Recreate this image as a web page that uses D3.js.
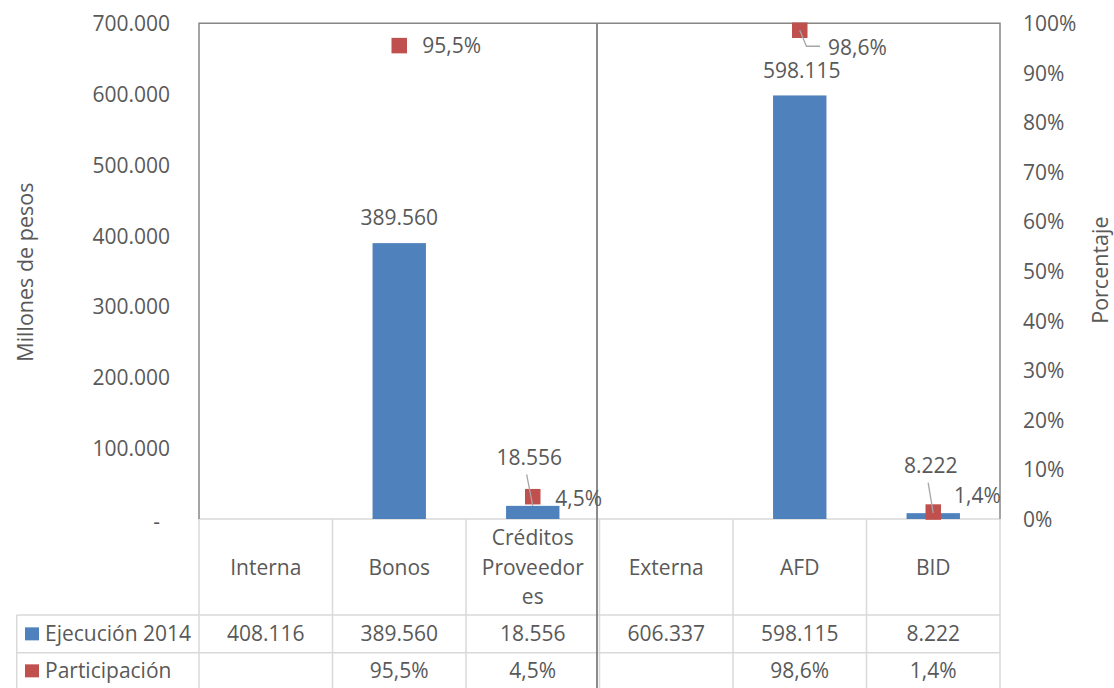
<!DOCTYPE html>
<html><head><meta charset="utf-8">
<script src="https://cdn.jsdelivr.net/npm/d3@7"></script>
<style>
html,body{margin:0;padding:0;background:#fff;}
svg{display:block;font-family:"Open Sans",sans-serif;}
</style></head><body>
<svg id="chart" width="1114" height="688"></svg>
<script>
// ---------- DATA ----------
const categories = ["Interna", "Bonos", "Créditos Proveedores", "Externa", "AFD", "BID"];
const ejecucion2014 = [408116, 389560, 18556, 606337, 598115, 8222];
const participacion = [null, 0.955, 0.045, null, 0.986, 0.014];
const isTotal = [true, false, false, true, false, false];
const leftTicks = [0, 100000, 200000, 300000, 400000, 500000, 600000, 700000];
const rightTicks = [0, 0.1, 0.2, 0.3, 0.4, 0.5, 0.6, 0.7, 0.8, 0.9, 1.0];
const seriesNames = ["Ejecución 2014", "Participación"];
const axisTitles = ["Millones de pesos", "Porcentaje"];

// ---------- STYLE / LAYOUT ----------
const W = 1114, H = 688;
const plot = {left: 199, right: 1000, top: 23.3, bottom: 519};
const tableLeft = 16.7, rowLines = [615, 652.7, 690];
const colBar = "#4F81BD", colPt = "#C0504D", txt = "#595959";
const border = "#868686", grid = "#D9D9D9", leaderCol = "#A6A6A6";
const FS = 21;
// manual label adjustments (Excel-style moved labels)
const labelAdjust = {
  "Créditos Proveedores": {bar: {dx: -3.5, dy: -23.3, leader: true}, pct: {dx: -0.5, dy: 2}},
  "AFD": {bar: {dx: 2, dy: 0}, pct: {dx: 5.3, dy: 17.8, leader: true}},
  "BID": {bar: {dx: -2.5, dy: -22.3, leader: true}, pct: {dx: -2.3, dy: -16.6}}
};

const locale = d3.formatLocale({decimal: ",", thousands: ".", grouping: [3], currency: ["$", ""]});
const fmtNum = locale.format(",.0f");
const fmtPct = locale.format(".1%");
const fmtAxisPct = locale.format(".0%");

const svg = d3.select("#chart");
const x = d3.scaleBand().domain(categories).range([plot.left, plot.right]).padding(0);
const yL = d3.scaleLinear().domain([0, 700000]).range([plot.bottom, plot.top]);
const yR = d3.scaleLinear().domain([0, 1]).range([plot.bottom, plot.top]);
const bw = x.bandwidth();
const barW = bw * 0.4;

const rows = categories.map((c, i) => ({cat: c, v: ejecucion2014[i], p: participacion[i], total: isTotal[i]}));

// ---------- TABLE GRID ----------
const g = svg.append("g");
g.append("line").attr("x1", plot.left).attr("x2", plot.right).attr("y1", plot.bottom).attr("y2", plot.bottom)
  .attr("stroke", grid).attr("stroke-width", 1.5);
const bounds = categories.map(c => x(c)).concat([plot.right]);
g.selectAll("line.vcell").data(bounds).join("line").attr("class", "vcell")
  .attr("x1", d => d).attr("x2", d => d).attr("y1", plot.bottom).attr("y2", rowLines[2])
  .attr("stroke", grid).attr("stroke-width", 1.5);
g.append("line").attr("x1", tableLeft).attr("x2", tableLeft).attr("y1", rowLines[0]).attr("y2", rowLines[2])
  .attr("stroke", grid).attr("stroke-width", 1.5);
g.selectAll("line.hrow").data(rowLines).join("line").attr("class", "hrow")
  .attr("x1", tableLeft).attr("x2", plot.right).attr("y1", d => d).attr("y2", d => d)
  .attr("stroke", grid).attr("stroke-width", 1.5);

// ---------- BARS ----------
svg.append("g").selectAll("rect").data(rows.filter(d => !d.total)).join("rect")
  .attr("x", d => x(d.cat) + (bw - barW) / 2)
  .attr("y", d => yL(d.v))
  .attr("width", barW)
  .attr("height", d => yL(0) - yL(d.v))
  .attr("fill", colBar);

// ---------- PLOT BORDER ----------
svg.append("path")
  .attr("d", `M${plot.left},${plot.bottom}V${plot.top}H${plot.right}V${plot.bottom}`)
  .attr("fill", "none").attr("stroke", border).attr("stroke-width", 1.5);

// separator line
svg.append("line").attr("x1", x("Externa") - 2.5).attr("x2", x("Externa") - 2.5)
  .attr("y1", plot.top).attr("y2", H).attr("stroke", "#7F7F7F").attr("stroke-width", 1.8);

// ---------- AXES ----------
const axL = svg.append("g").attr("transform", `translate(${plot.left},0)`)
  .call(d3.axisLeft(yL).tickValues(leftTicks).tickSize(0).tickPadding(29)
    .tickFormat(d => d === 0 ? "-" : fmtNum(d)));
axL.select(".domain").remove();
axL.selectAll("text").attr("fill", txt).style("font-size", FS + "px").style("font-family", "Open Sans")
  .attr("dx", d => d === 0 ? -10 : 0).attr("dy", d => d === 0 ? "0.45em" : "0.35em");

const axR = svg.append("g").attr("transform", `translate(${plot.right},0)`)
  .call(d3.axisRight(yR).tickValues(rightTicks).tickSize(0).tickPadding(23).tickFormat(fmtAxisPct));
axR.select(".domain").remove();
axR.selectAll("text").attr("fill", txt).style("font-size", FS + "px").style("font-family", "Open Sans")
  .attr("dy", "0.35em");

// axis titles
svg.append("text").attr("transform", `translate(33,${(plot.top + plot.bottom) / 2 + 1}) rotate(-90)`)
  .attr("text-anchor", "middle").attr("fill", txt).style("font-size", "21.5px").text(axisTitles[0]);
svg.append("text").attr("transform", `translate(1108,${(plot.top + plot.bottom) / 2 - 1}) rotate(-90)`)
  .attr("text-anchor", "middle").attr("fill", txt).style("font-size", "21.5px").text(axisTitles[1]);

// ---------- MARKERS ----------
const mS = 15.5;
const pts = rows.filter(d => d.p != null);
svg.append("g").selectAll("rect").data(pts).join("rect")
  .attr("x", d => x(d.cat) + bw / 2 - mS / 2)
  .attr("y", d => yR(d.p) - mS / 2)
  .attr("width", mS).attr("height", mS).attr("fill", colPt);

// ---------- DATA LABELS ----------
const lab = svg.append("g").attr("fill", txt).style("font-size", FS + "px");
rows.filter(d => !d.total).forEach(d => {
  const cx = x(d.cat) + bw / 2;
  const adj = (labelAdjust[d.cat] || {}).bar || {dx: 0, dy: 0};
  const top = yL(d.v);
  const lx = cx + adj.dx, base = top - 17.7 + adj.dy;
  if (adj.leader) {
    svg.append("line").attr("x1", lx - 2.6).attr("y1", base + 9.5).attr("x2", cx).attr("y2", top)
      .attr("stroke", leaderCol).attr("stroke-width", 1.3);
  }
  lab.append("text").attr("x", lx).attr("y", base).attr("text-anchor", "middle").text(fmtNum(d.v));
});
pts.forEach(d => {
  const cx = x(d.cat) + bw / 2, cy = yR(d.p);
  const adj = (labelAdjust[d.cat] || {}).pct || {dx: 0, dy: 0};
  const lx = cx + 23 + adj.dx, ly = cy + adj.dy;
  if (adj.leader) {
    svg.append("polyline")
      .attr("points", `${cx},${cy} ${cx + 6.7},${ly - 1.8} ${lx - 8},${ly - 1.8}`)
      .attr("fill", "none").attr("stroke", leaderCol).attr("stroke-width", 1.3);
  }
  lab.append("text").attr("x", lx).attr("y", ly).attr("dy", "0.35em").text(fmtPct(d.p));
});

// ---------- TABLE TEXT ----------
const tt = svg.append("g").attr("fill", txt).style("font-size", FS + "px");
const headerMid = (plot.bottom + rowLines[0]) / 2 + 0.5;
const lineH = 29.5;
function wrapWords(str, maxW) {
  const meas = tt.append("text").style("visibility", "hidden");
  const w = s => { meas.text(s); return meas.node().getComputedTextLength(); };
  const lines = [];
  let cur = "";
  str.split(" ").forEach(word => {
    const cand = cur ? cur + " " + word : word;
    if (w(cand) <= maxW) { cur = cand; return; }
    if (cur) { lines.push(cur); cur = ""; }
    let piece = "";
    for (const ch of word) {
      if (w(piece + ch) > maxW && piece) { lines.push(piece); piece = ch; } else piece += ch;
    }
    cur = piece;
  });
  if (cur) lines.push(cur);
  meas.remove();
  return lines;
}
categories.forEach(c => {
  const lines = wrapWords(c, 106);
  const cx = x(c) + bw / 2;
  const t = tt.append("text").attr("text-anchor", "middle");
  lines.forEach((ln, i) => {
    t.append("tspan").attr("x", cx)
      .attr("y", headerMid + (i - (lines.length - 1) / 2) * lineH).attr("dy", "0.35em").text(ln);
  });
});
const r1 = (rowLines[0] + rowLines[1]) / 2, r2 = (rowLines[1] + rowLines[2]) / 2 - 0.5;
rows.forEach(d => {
  const cx = x(d.cat) + bw / 2;
  tt.append("text").attr("x", cx).attr("y", r1).attr("dy", "0.35em").attr("text-anchor", "middle").text(fmtNum(d.v));
  if (d.p != null)
    tt.append("text").attr("x", cx).attr("y", r2).attr("dy", "0.35em").attr("text-anchor", "middle").text(fmtPct(d.p));
});
[[r1, colBar, seriesNames[0]], [r2, colPt, seriesNames[1]]].forEach(([ry, col, name]) => {
  svg.append("rect").attr("x", 25).attr("y", ry - 6.5).attr("width", 14).attr("height", 13).attr("fill", col);
  tt.append("text").attr("x", 45).attr("y", ry).attr("dy", "0.35em").text(name);
});
</script>
</body></html>
